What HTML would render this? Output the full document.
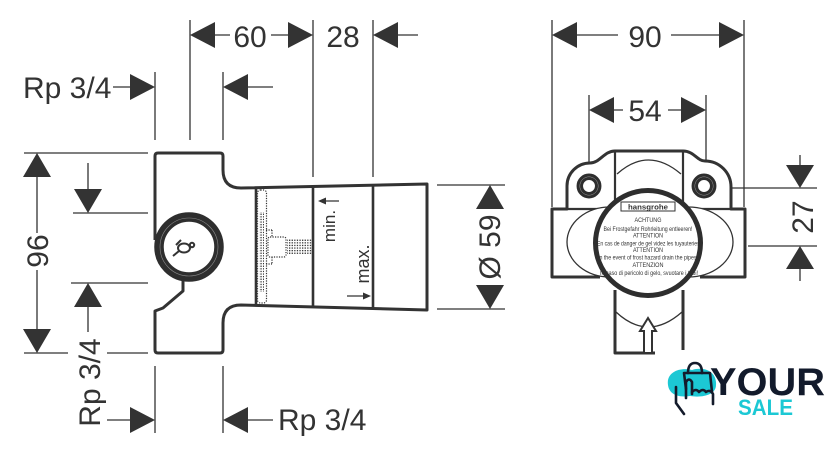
<!DOCTYPE html>
<html><head><meta charset="utf-8"><style>
html,body{margin:0;padding:0;background:#fff;}
svg{display:block}
</style></head><body>
<svg width="840" height="459" viewBox="0 0 840 459" xmlns="http://www.w3.org/2000/svg" font-family="'Liberation Sans', sans-serif">
<defs>
<pattern id="dots" width="2.6" height="2.6" patternUnits="userSpaceOnUse"><rect x="0.4" y="0.4" width="1.3" height="1.3" fill="#333"/></pattern>
</defs>
<rect width="840" height="459" fill="#fff"/>

<!-- dimension lines -->
<g stroke="#333" stroke-width="1.3" fill="none">
 <path d="M215,35 H230 M271,35 H288 M398,35 H418"/>
 <path d="M190,20 V140 M313,20 V177 M373,20 V177"/>
 <path d="M113,87 H130 M248,87 H273 M155,72 V140 M223,72 V140"/>
 <path d="M24,153 H148 M24,353 H68 M107,353 H148 M37,177 V233 M37,270 V329"/>
 <path d="M88,163 V189 M73,213 H148 M71,283 H148 M88,307 V332"/>
 <path d="M107,420 H130 M248,420 H273 M155,366 V433 M223,366 V433"/>
 <path d="M437,185 H505 M437,309 H505"/>
 <path d="M577,35 H618 M671,35 H719 M552,20 V207 M744,20 V207"/>
 <path d="M614,110 H623 M668,110 H681 M589,95 V163 M706,95 V162"/>
 <path d="M800,155 V165 M732,188 H817 M748,246 H817 M800,269 V281"/>
 <path d="M325,201 H339 M347,296 H364"/>
</g>

<!-- arrowheads -->
<g fill="#333">
 <polygon points="190,35 215,22 215,48"/>
 <polygon points="313,35 288,22 288,48"/>
 <polygon points="373,35 398,22 398,48"/>
 <polygon points="155,87 130,74 130,100"/>
 <polygon points="223,87 248,74 248,100"/>
 <polygon points="37,153 23,177 51,177"/>
 <polygon points="37,353 23,329 51,329"/>
 <polygon points="88,213 74,189 102,189"/>
 <polygon points="88,283 74,307 102,307"/>
 <polygon points="155,420 130,407 130,433"/>
 <polygon points="223,420 248,407 248,433"/>
 <polygon points="490,185 476,209 504,209"/>
 <polygon points="490,309 476,285 504,285"/>
 <polygon points="552,35 577,22 577,48"/>
 <polygon points="744,35 719,22 719,48"/>
 <polygon points="589,110 614,97 614,123"/>
 <polygon points="706,110 681,97 681,123"/>
 <polygon points="800,188 786,165 814,165"/>
 <polygon points="800,246 786,269 814,269"/>
 <polygon points="318,201 326,197.5 326,204.5"/>
 <polygon points="371,296 363,292.5 363,299.5"/>
</g>

<!-- dimension texts -->
<g fill="#333" font-size="30">
 <text x="250" y="47" text-anchor="middle">60</text>
 <text x="343" y="47" text-anchor="middle">28</text>
 <text x="23" y="98">Rp 3/4</text>
 <text x="278" y="430">Rp 3/4</text>
 <text transform="translate(48,251) rotate(-90)" text-anchor="middle">96</text>
 <text transform="translate(100,382.5) rotate(-90)" text-anchor="middle">Rp 3/4</text>
 <text transform="translate(500,247) rotate(-90)" text-anchor="middle">Ø 59</text>
 <text x="645" y="47" text-anchor="middle">90</text>
 <text x="645" y="121" text-anchor="middle">54</text>
 <text transform="translate(813,217) rotate(-90)" text-anchor="middle">27</text>
</g>
<g fill="#333" font-size="17">
 <text transform="translate(335,226) rotate(-90)" text-anchor="middle">min.</text>
 <text transform="translate(369,264) rotate(-90)" text-anchor="middle" font-size="18">max.</text>
</g>

<!-- LEFT BODY -->
<g stroke="#333" fill="none" stroke-linejoin="round">
 <path stroke-width="3" d="M155,240 L155,156 Q155,153 158,153 L220,153 Q223,153 223,156 L223,170 Q223,188 241,188 L427,184 L427,310 L241,305 Q223,305 223,323 L223,350 Q223,353 220,353 L158,353 Q155,353 155,350 L155,311 L163,308 L183,291 L183,280"/>
 <path stroke-width="2.6" d="M256,188 V305 M313,186 V307 M373,185 V308"/>
 <rect x="257.5" y="190" width="9" height="113" rx="3" stroke-width="1.2" stroke-dasharray="1.2 1.3"/>
 <rect x="268" y="237" width="18" height="20" rx="2" stroke-width="1.2" stroke-dasharray="1.2 1.3"/>
 <path d="M266,230 H272 M266,264 H272 M272,230 V237 M272,257 V264" stroke-width="1.2" stroke-dasharray="1.2 1.3"/>
</g>
<rect x="259" y="212" width="5" height="80" fill="url(#dots)"/>
<rect x="287" y="239" width="25" height="15" fill="url(#dots)"/>
<circle cx="189" cy="247" r="30" fill="#fff" stroke="#2e2e2e" stroke-width="9.5"/>
<circle cx="189" cy="247" r="29" fill="none" stroke="#8a8a8a" stroke-width="0.6"/>
<g stroke="#333" stroke-width="2" fill="none">
 <ellipse cx="184" cy="248" rx="6" ry="4.5"/>
 <circle cx="192" cy="245" r="2.2"/>
 <path d="M179,251 L173,256 M176,245 L181,240"/>
</g>

<!-- RIGHT BODY -->
<g stroke="#333" fill="none" stroke-linejoin="round">
 <path stroke-width="3" d="M615,151 H683"/>
 <path stroke-width="3" d="M615,151 C604,151 600,163 590,163 A23,23 0 0 0 567,186 L567,209 L552,209 L552,277 L600,277"/>
 <path stroke-width="3" d="M683,151 C694,151 697,161 705,161 A26,26 0 0 1 731,187 L731,209 L745,209 L745,277 L700,277"/>
 <path stroke-width="2.2" d="M615,151 V209 M683,151 V209 M567,209 H615 M683,209 H731"/>
 <path stroke-width="3" d="M615,290 V353 H655 M683,290 V350"/>
</g>
<g stroke="#333" stroke-width="1.3" fill="#fff">
 <path d="M617,174 Q648,146 681,174" fill="none"/>
 <ellipse cx="610" cy="242" rx="43" ry="35"/>
 <ellipse cx="688" cy="242" rx="45" ry="35"/>
 <path d="M616,312 Q648,342 682,312" fill="none"/>
</g>
<circle cx="648" cy="243" r="52.5" fill="#fff"/>
<g fill="#333" font-size="6" text-anchor="middle">
 <rect x="621" y="202" width="54" height="9" fill="#fff" stroke="#333" stroke-width="1"/>
 <text x="648" y="209.5" font-weight="bold" font-size="7.5" textLength="40" lengthAdjust="spacingAndGlyphs">hansgrohe</text>
 <text x="648" y="222" textLength="27" lengthAdjust="spacingAndGlyphs">ACHTUNG</text>
 <text x="648" y="231" textLength="89" lengthAdjust="spacingAndGlyphs">Bei Frostgefahr Rohrleitung entleeren!</text>
 <text x="648" y="237.5" textLength="30" lengthAdjust="spacingAndGlyphs">ATTENTION</text>
 <text x="649" y="245.5" textLength="104" lengthAdjust="spacingAndGlyphs">En cas de danger de gel videz les tuyauteries!</text>
 <text x="648" y="252" textLength="30" lengthAdjust="spacingAndGlyphs">ATTENTION</text>
 <text x="648" y="259.5" textLength="100" lengthAdjust="spacingAndGlyphs">In the event of frost hazard drain the pipes!</text>
 <text x="648" y="267" textLength="31" lengthAdjust="spacingAndGlyphs">ATTENZION</text>
 <text x="649" y="275" textLength="98" lengthAdjust="spacingAndGlyphs">In caso di pericolo di gelo, svuotare i tubi!</text>
</g>
<circle cx="648" cy="243" r="52.5" fill="none" stroke="#2e2e2e" stroke-width="5"/>
<circle cx="589" cy="186" r="9.2" fill="#fff" stroke="#2e2e2e" stroke-width="6.5"/>
<circle cx="704" cy="186" r="9.2" fill="#fff" stroke="#2e2e2e" stroke-width="6.5"/>
<circle cx="589" cy="186" r="9.2" fill="none" stroke="#999" stroke-width="0.5"/>
<circle cx="704" cy="186" r="9.2" fill="none" stroke="#999" stroke-width="0.5"/>
<polygon points="648,318 656,331 652,331 652,353 644,353 644,331 640,331" fill="#fff" stroke="#333" stroke-width="2" stroke-linejoin="miter"/>

<!-- LOGO -->
<rect x="657" y="352" width="176" height="72" rx="12" fill="#fff"/>
<path d="M668,385 C666,372 680,367 692,370 C705,366 717,372 716,385 C716,395 702,398 690,396 C676,398 669,393 668,385 Z" fill="#1cc8d4"/>
<g stroke="#141b2b" stroke-width="2.6" fill="none" stroke-linecap="round" stroke-linejoin="round">
 <path d="M688,373 Q688,363 695,363 Q702,363 702,373"/>
 <path d="M686,389 L684,373 H710 L712,392"/>
 <path d="M676,387 L676,403 L684,414"/>
 <path d="M686,398 V382 Q689,377 692,382 V394"/>
 <path d="M692,392 Q696,388 699,392 Q703,388 706,392 Q710,389 713,394 V404"/>
</g>
<text x="710" y="395" font-size="39" font-weight="bold" fill="#121a2b" textLength="115" lengthAdjust="spacingAndGlyphs">YOUR</text>
<text x="738" y="415" font-size="22" font-weight="bold" fill="#1cc8d4" textLength="55" lengthAdjust="spacingAndGlyphs">SALE</text>
</svg>
</body></html>
